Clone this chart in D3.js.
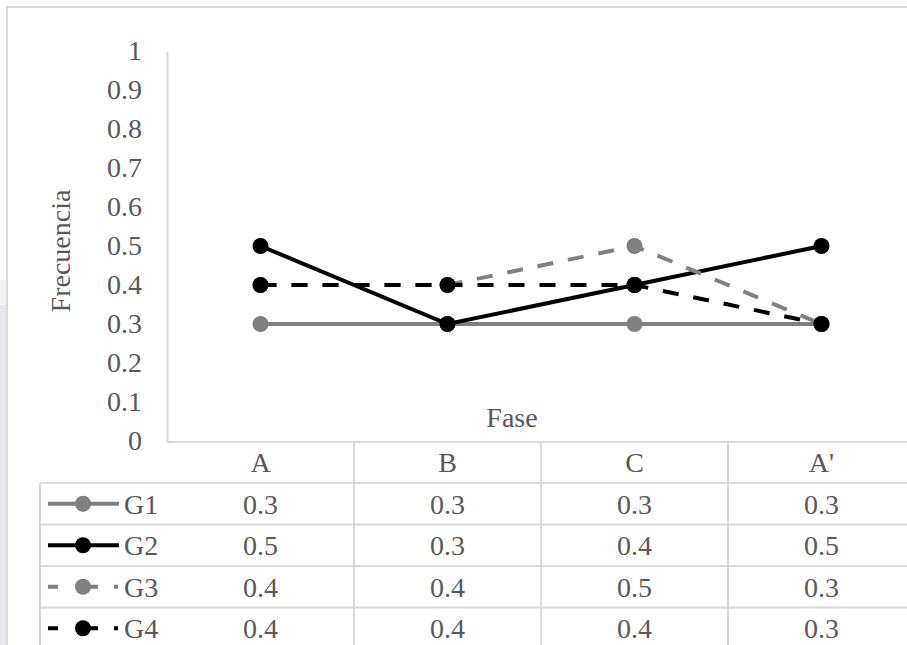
<!DOCTYPE html>
<html>
<head>
<meta charset="utf-8">
<script src="https://cdn.jsdelivr.net/npm/d3@7/dist/d3.min.js"></script>
<style>
  html, body { margin: 0; padding: 0; background: #ffffff; }
  svg { display: block; }
  text { font-family: "Liberation Serif", "Times New Roman", serif; fill: #595959; }
</style>
</head>
<body>
<svg id="chart" width="907" height="645"></svg>
<script>
// Phases on the x axis
const categories = ["A", "B", "C", "A'"];
// Group frequencies per phase
const seriesNames = ["G1", "G2", "G3", "G4"];
const g1 = [0.3, 0.3, 0.3, 0.3];
const g2 = [0.5, 0.3, 0.4, 0.5];
const g3 = [0.4, 0.4, 0.5, 0.3];
const g4 = [0.4, 0.4, 0.4, 0.3];
const yTicks = [0, 0.1, 0.2, 0.3, 0.4, 0.5, 0.6, 0.7, 0.8, 0.9, 1];

const seriesValues = [g1, g2, g3, g4];
const styles = [
  { color: "#808080", dash: null, key: null },
  { color: "#000000", dash: null, key: null },
  { color: "#808080", dash: "16,15", key: "10,18,22,16,4,100" },
  { color: "#000000", dash: "16,15", key: "10,18,22,16,4,100" }
];

const svg = d3.select("#chart");
const gridColor = "#d9d9d9";

// Page backdrop strip and chart frame
svg.append("rect").attr("x", 0).attr("y", 280).attr("width", 6).attr("height", 25).attr("fill", "#f3f3f5");
svg.append("rect").attr("x", 0).attr("y", 305).attr("width", 7).attr("height", 340).attr("fill", "#e6e6ea");
svg.append("line").attr("x1", 7).attr("x2", 7).attr("y1", 6).attr("y2", 645)
  .attr("stroke", gridColor).attr("stroke-width", 2);
svg.append("line").attr("x1", 7).attr("x2", 907).attr("y1", 7).attr("y2", 7)
  .attr("stroke", gridColor).attr("stroke-width", 2);

// Scales
const x = d3.scaleBand().domain(categories).range([167, 915]).padding(0);
const y = d3.scaleLinear().domain([0, 1]).range([441, 51]);
const cx = d => x(d) + x.bandwidth() / 2;

// Value axis
const yAxis = d3.axisLeft(y).tickValues(yTicks).tickSize(0).tickPadding(25)
  .tickFormat(d => d3.format("~g")(d));
const ya = svg.append("g").attr("transform", "translate(167,0)").call(yAxis);
ya.select(".domain").attr("stroke", gridColor).attr("stroke-width", 2);
ya.selectAll("text").attr("font-size", 28).attr("fill", "#595959")
  .style("font-family", "'Liberation Serif', serif");

// Axis titles
svg.append("text").attr("transform", "translate(70,251) rotate(-90)")
  .attr("text-anchor", "middle").attr("font-size", 28).text("Frecuencia");
svg.append("text").attr("x", 512).attr("y", 427)
  .attr("text-anchor", "middle").attr("font-size", 28).text("Fase");

// Data table grid
const headerTop = 442, headerH = 41, rowH = 41.5;
const rowY = i => headerTop + headerH + i * rowH;
const grid = svg.append("g").attr("stroke", gridColor).attr("stroke-width", 2);
grid.append("line").attr("x1", 167).attr("x2", 907).attr("y1", headerTop).attr("y2", headerTop);
seriesNames.forEach((s, i) => {
  grid.append("line").attr("x1", 40).attr("x2", 907).attr("y1", rowY(i)).attr("y2", rowY(i));
});
grid.append("line").attr("x1", 40).attr("x2", 40).attr("y1", rowY(0)).attr("y2", 645);
categories.forEach(c => {
  grid.append("line").attr("x1", x(c) + x.bandwidth()).attr("x2", x(c) + x.bandwidth())
    .attr("y1", headerTop).attr("y2", 645);
});

// Category headers
svg.append("g").selectAll("text").data(categories).join("text")
  .attr("x", cx).attr("y", headerTop + headerH / 2).attr("dy", "0.35em")
  .attr("text-anchor", "middle").attr("font-size", 28).text(d => d);

// Table rows: legend key + values
seriesNames.forEach((name, i) => {
  const st = styles[i];
  const my = rowY(i) + rowH / 2;
  const row = svg.append("g");
  row.append("line").attr("x1", 48).attr("x2", 119).attr("y1", my).attr("y2", my)
    .attr("stroke", st.color).attr("stroke-width", 4)
    .attr("stroke-dasharray", st.key);
  row.append("circle").attr("cx", 83).attr("cy", my).attr("r", 8).attr("fill", st.color);
  row.append("text").attr("x", 124).attr("y", my).attr("dy", "0.35em")
    .attr("font-size", 28).text(name);
  row.selectAll("text.v").data(seriesValues[i]).join("text").attr("class", "v")
    .attr("x", (d, j) => cx(categories[j])).attr("y", my).attr("dy", "0.35em")
    .attr("text-anchor", "middle").attr("font-size", 28).text(d => d3.format(".1f")(d));
});

// Lines and markers
const line = d3.line().x((d, j) => cx(categories[j])).y(d => y(d));
seriesValues.forEach((vals, i) => {
  const st = styles[i];
  const g = svg.append("g");
  g.append("path").datum(vals).attr("d", line).attr("fill", "none")
    .attr("stroke", st.color).attr("stroke-width", 4)
    .attr("stroke-dasharray", st.dash);
  g.selectAll("circle").data(vals).join("circle")
    .attr("cx", (d, j) => cx(categories[j])).attr("cy", d => y(d))
    .attr("r", 8).attr("fill", st.color);
});
</script>
</body>
</html>
